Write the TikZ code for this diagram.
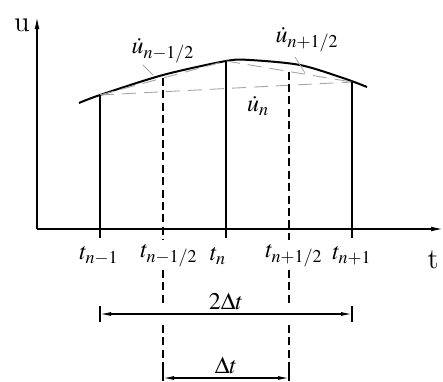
\documentclass[tikz,border=0pt]{standalone}
\usepackage{mathptmx}
\usetikzlibrary{arrows.meta}
\definecolor{chordgray}{RGB}{165,165,165}
\tikzset{
  axisline/.style={line width=0.65pt, -{Latex[length=6pt,width=2.4pt]}},
  stem/.style={line width=0.6pt},
  halfstem/.style={line width=0.6pt, dash pattern=on 4pt off 2.2pt},
  chord/.style={chordgray, line width=0.45pt, dash pattern=on 7pt off 4pt},
  leader/.style={chordgray, line width=0.4pt},
  dimline/.style={line width=0.6pt, {Latex[length=5.5pt,width=2pt]}-{Latex[length=5.5pt,width=2pt]}},
  lbl/.style={font=\large, inner sep=1pt},
  axlbl/.style={font=\Large, inner sep=1pt}
}

\begin{document}
\begin{tikzpicture}[x=0.5pt, y=-0.5pt]
\useasboundingbox (0,0) rectangle (443,381);

% axes
\coordinate (O) at (37,229);
\draw[axisline] (O) -- (37,17) coordinate (ytip);
\draw[axisline] (O) -- (443,229) coordinate (xtip);
\node[axlbl] (ulab) at (22,25) {u};
\node[axlbl] (tlab) at (433,260) {t};

% time points on the axis
\coordinate (tA) at (100,229);
\coordinate (tAB) at (163,229);
\coordinate (tB) at (226,229);
\coordinate (tBC) at (289,229);
\coordinate (tC) at (352,229);

% points on the curve and chord midpoints
\coordinate (uA) at (100,95);
\coordinate (uB) at (226,61);
\coordinate (uC) at (352,82);
\coordinate (mA) at (163,78);
\coordinate (mC) at (289,71.5);

% curve u(t)
\draw[line width=1pt] plot[smooth] coordinates
  {(79,103) (100,95) (163,75) (226,61) (250,60) (300,65) (343,78) (367,87)};

% chords
\draw[chord] (uA) -- (uB);
\draw[chord] (uB) -- (uC);
\draw[chord] (uA) -- (uC);

% solid stems
\draw[stem] (uA) -- (tA) -- ++(0,9);
\draw[stem] (uB) -- (tB) -- ++(0,9);
\draw[stem] (uC) -- (tC) -- ++(0,9);

% dashed stems at the half steps
\foreach \x/\top in {163/mA, 289/mC} {
  \draw[halfstem] (\top) -- (\x,240);
  \draw[halfstem] (\x,270) -- (\x,307);
  \draw[halfstem] (\x,325) -- (\x,369);
  \draw[stem] (\x,369) -- (\x,381);
}

% tick labels
\node[lbl] (lA) at (99,256) {$t_{n-1}$};
\node[lbl] (lAB) at (169,256) {$t_{n-1/2}$};
\node[lbl] (lB) at (218,256) {$t_n$};
\node[lbl] (lBC) at (294,256) {$t_{n+1/2}$};
\node[lbl] (lC) at (352,256) {$t_{n+1}$};

% velocity labels
\node[lbl] (vAB) at (163,51) {$\dot u_{n-1/2}$};
\node[lbl] (vBC) at (307,40) {$\dot u_{n+1/2}$};
\node[lbl] (vB) at (258,106) {$\dot u_n$};
\draw[leader] (143,65) -- (153,75);
\draw[leader] (295,57) -- (305,73);

% step widths
\draw[stem] (100,306) -- (100,322);
\draw[stem] (352,306) -- (352,322);
\draw[dimline] (100,314) -- (352,314) node[midway, above=1pt, lbl] (dd) {$2\Delta t$};
\draw[dimline] (163,378) -- (289,378) node[midway, above=1pt, lbl] (d) {$\Delta t$};
\end{tikzpicture}
\end{document}
